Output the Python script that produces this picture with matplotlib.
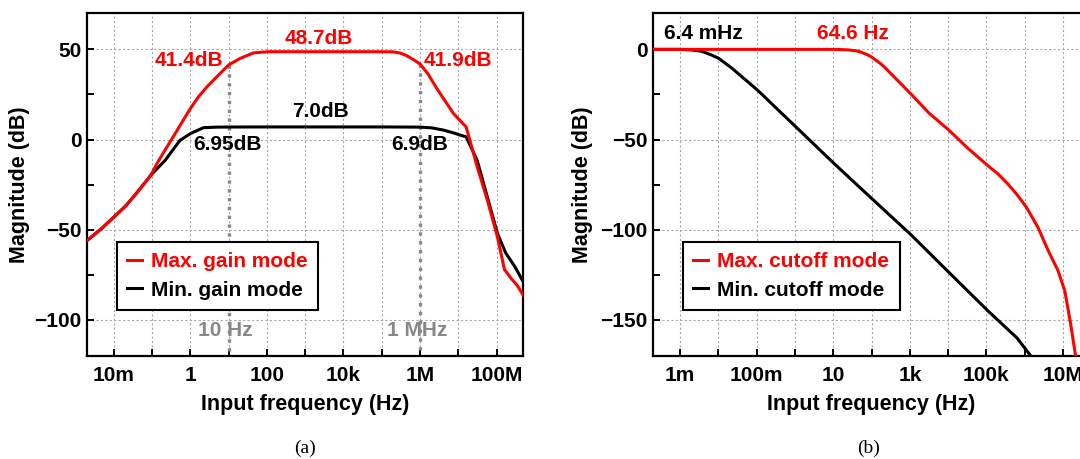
import numpy as np
import matplotlib
matplotlib.use("Agg")
import matplotlib.pyplot as plt
from matplotlib.ticker import MultipleLocator

plt.rcParams['font.family'] = ['Liberation Sans', 'DejaVu Sans']
plt.rcParams['font.weight'] = 'bold'
plt.rcParams['font.size'] = 15
plt.rcParams['axes.labelweight'] = 'bold'
plt.rcParams['axes.labelsize'] = 15.5

# ---- (a) gain modes ----
freq_max_gain = [2e-3, 5e-3, 1e-2, 2e-2, 3.5e-2, 0.079, 0.1, 0.13, 0.2, 0.355, 0.6, 1,
                 1.6, 2.7, 5, 10, 20, 45, 110,
                 1e3, 1e4, 1e5, 2e5, 3e5, 4.5e5, 6.5e5, 1e6, 1.6e6, 2.8e6, 7.5e6, 1.6e7,
                 3.1e7, 5.75e7, 1.05e8, 1.6e8, 2.4e8, 3.5e8, 5e8]
mag_max_gain = [-56, -49, -43, -37, -31, -21.7, -18.5, -13.8, -7.1, 1.5, 9.5, 17.2,
                23.5, 29.2, 35.0, 41.4, 45.0, 48.1, 48.7,
                48.7, 48.7, 48.7, 48.6, 48.0, 46.5, 44.5, 41.9, 36.5, 28.0, 14.4, 7.0,
                -15.0, -33.7, -54.0, -72.0, -77.0, -81.0, -86.5]

freq_min_gain = [2e-3, 5e-3, 1e-2, 2e-2, 3.5e-2, 0.079, 0.1, 0.13, 0.22, 0.355, 0.54, 1,
                 2.2, 5, 10, 100, 1e3, 1e4, 1e5, 1e6, 2e6, 4.2e6, 8e6, 1.15e7, 1.6e7,
                 3.1e7, 5.75e7, 1.05e8, 1.74e8, 2.34e8, 3.1e8, 5e8]
mag_min_gain = [-56, -49, -43, -37, -31, -21.7, -19.0, -16.5, -11.5, -5.5, -0.4, 3.3,
                6.6, 6.9, 6.95, 7.0, 7.0, 7.0, 7.0, 6.9, 6.5, 5.2, 3.5, 2.4, 1.5,
                -11.5, -32.0, -52.0, -63.0, -67.0, -71.0, -79.0]

marker_freq = [10, 1e6]
marker_gain = [41.4, 41.9]

# ---- (b) cutoff modes ----
freq_max_cut = [2e-4, 1e-2, 1, 12, 25, 40, 52.5, 64.6, 80, 100, 130, 170, 230, 316,
                1.1e3, 3.16e3, 1.05e4, 3.16e4, 1.07e5, 2e5, 3.6e5, 6.3e5, 1.1e6,
                2.2e6, 4.1e6, 7.4e6, 1.12e7, 1.58e7, 2.14e7, 2.4e7]
mag_max_cut = [0, 0, 0, 0, -0.3, -0.8, -1.5, -2.3, -3.1, -4.2, -6.0, -7.8, -10.3, -13.3,
               -25.0, -35.3, -44.8, -54.5, -64.3, -69.0, -74.5, -80.5, -87.4,
               -98.5, -111.5, -122.6, -134.0, -152.0, -170.0, -180.0]

freq_min_cut = [2e-4, 1e-3, 2e-3, 3.6e-3, 6.4e-3, 1.02e-2, 2.3e-2, 0.105, 1, 10.5,
                100, 1.1e3, 1e4, 1.1e5, 6.3e5, 1.45e6, 2.5e6]
mag_min_cut = [0, 0, -0.3, -1.0, -3.0, -5.0, -10.6, -22.6, -42.5, -63.3,
               -82.6, -103.0, -123.2, -145.0, -160.0, -170.0, -180.0]

xt_a = [1e-2, 1e-1, 1, 10, 1e2, 1e3, 1e4, 1e5, 1e6, 1e7, 1e8]
xl_a = ['10m', '', '1', '', '100', '', '10k', '', '1M', '', '100M']
xt_b = [1e-3, 1e-2, 1e-1, 1, 10, 1e2, 1e3, 1e4, 1e5, 1e6, 1e7]
xl_b = ['1m', '', '100m', '', '10', '', '1k', '', '100k', '', '10M']

RED = '#ff0000'
GRID = '#a8a8a8'

fig = plt.figure(figsize=(10.8, 4.59), dpi=100)
ax1 = fig.add_axes([0.0806, 0.2244, 0.404, 0.7466])
ax2 = fig.add_axes([0.605, 0.2244, 0.404, 0.7466])


def style(ax, xt, xl, ylim, yt, xlim):
    ax.set_xscale('log')
    ax.set_xlim(*xlim)
    ax.set_ylim(*ylim)
    ax.set_xticks(xt)
    ax.set_xticklabels(xl)
    ax.xaxis.set_minor_locator(plt.NullLocator())
    ax.set_yticks(yt)
    ax.yaxis.set_minor_locator(MultipleLocator(25))
    ax.tick_params(which='both', direction='in', length=5, width=1.4,
                   top=False, right=False)
    ax.tick_params(axis='x', pad=7)
    ax.tick_params(axis='y', pad=4)
    ax.grid(True, which='major', color=GRID, linestyle=(0, (2, 2)), linewidth=0.8)
    for s in ax.spines.values():
        s.set_linewidth(1.6)
    ax.set_xlabel('Input frequency (Hz)', labelpad=7)
    ax.set_ylabel('Magnitude (dB)')


style(ax1, xt_a, xl_a, (-120, 70), [-100, -50, 0, 50], (2e-3, 5e8))
style(ax2, xt_b, xl_b, (-170, 20), [-150, -100, -50, 0], (2e-4, 5e7))
ax1.yaxis.set_label_coords(-0.13, 0.5)
ax2.yaxis.set_label_coords(-0.138, 0.5)

# panel (a)
for f, g in zip(marker_freq, marker_gain):
    ax1.plot([f, f], [g, -120], color='#888888', lw=2.4, ls=':', zorder=2)
ax1.plot(freq_max_gain, mag_max_gain, color=RED, lw=2.2, label='Max. gain mode', zorder=4)
ax1.plot(freq_min_gain, mag_min_gain, color='black', lw=2.2, label='Min. gain mode', zorder=3)

ax1.text(10**3.36, 56, '48.7dB', color=RED, ha='center', va='center')
ax1.text(10**-0.04, 44, '41.4dB', color=RED, ha='center', va='center')
ax1.text(10**6.98, 44, '41.9dB', color=RED, ha='center', va='center')
ax1.text(10**3.4, 15.3, '7.0dB', color='black', ha='center', va='center')
ax1.text(10**0.98, -2.6, '6.95dB', color='black', ha='center', va='center')
ax1.text(10**5.98, -2.6, '6.9dB', color='black', ha='center', va='center')
ax1.text(10**0.9, -106, '10 Hz', color='#888888', ha='center', va='center')
ax1.text(10**5.93, -106, '1 MHz', color='#888888', ha='center', va='center')

# panel (b)
ax2.plot(freq_max_cut, mag_max_cut, color=RED, lw=2.2, label='Max. cutoff mode', zorder=4)
ax2.plot(freq_min_cut, mag_min_cut, color='black', lw=2.2, label='Min. cutoff mode', zorder=3)
ax2.text(10**-2.40, 8.9, '6.4 mHz', color='black', ha='center', va='center')
ax2.text(10**1.52, 8.9, '64.6 Hz', color=RED, ha='center', va='center')

for ax in (ax1, ax2):
    leg = ax.legend(loc='lower left', bbox_to_anchor=(0.068, 0.134), frameon=True,
                    fancybox=False, edgecolor='black', framealpha=1,
                    handlelength=0.7, handletextpad=0.45, borderpad=0.5,
                    labelspacing=0.45, borderaxespad=0, labelcolor='linecolor')
    leg.get_frame().set_linewidth(1.5)

fig.text(0.2824, 0.024, '(a)', family='Liberation Serif', weight='normal',
         fontsize=14, ha='center', va='center')
fig.text(0.8046, 0.024, '(b)', family='Liberation Serif', weight='normal',
         fontsize=14, ha='center', va='center')

fig.savefig('out.png', dpi=100)
